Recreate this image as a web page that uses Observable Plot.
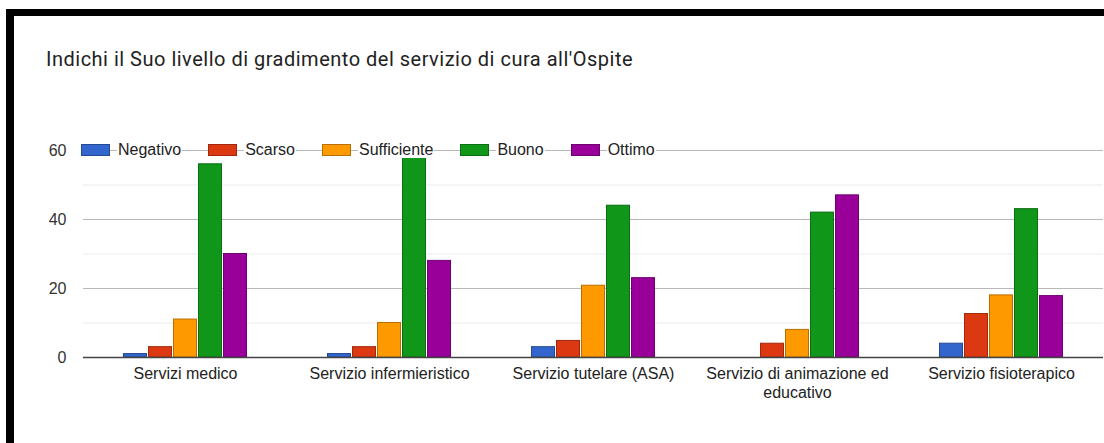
<!DOCTYPE html>
<html>
<head>
<meta charset="utf-8">
<script src="https://cdn.jsdelivr.net/npm/d3@7"></script>
<script src="https://cdn.jsdelivr.net/npm/@observablehq/plot@0.6"></script>
<style>
  html, body { margin: 0; padding: 0; background: #fff; }
  body { width: 1104px; height: 443px; overflow: hidden; position: relative; }
  #frame { position: absolute; left: 6px; top: 9px; width: 1200px; height: 600px;
           border-left: 8px solid #000; border-top: 7px solid #000; box-sizing: border-box; }
  #title { position: absolute; left: 46px; top: 47px; font-family: Roboto, sans-serif;
           font-size: 20px; letter-spacing: 0.5px; color: #222; white-space: nowrap; }
  #chart { position: absolute; left: 0; top: 0; }
  #legend { position: absolute; left: 81px; top: 142px; height: 16px; display: flex; align-items: center;
            font-family: "Liberation Sans", Arial, sans-serif; font-size: 16px; color: #222; }
  .sw { width: 29px; height: 12px; margin-right: 7px; box-sizing: border-box; border: 1px solid; }
  .lt { background: #fff; margin-right: 26px; padding: 0 1px; line-height: 16px; }
</style>
</head>
<body>
<div id="frame"></div>
<div id="chart"></div>
<div id="title">Indichi il Suo livello di gradimento del servizio di cura all'Ospite</div>
<div id="legend"></div>
<script>
const categories = ["Servizi medico", "Servizio infermieristico", "Servizio tutelare (ASA)", "Servizio di animazione ed educativo", "Servizio fisioterapico"];
const series = ["Negativo", "Scarso", "Sufficiente", "Buono", "Ottimo"];
const negativo    = [1, 1, 3, 0, 4];
const scarso      = [3, 3, 4.8, 4, 12.6];
const sufficiente = [11, 10, 20.8, 8, 18];
const buono       = [56, 59, 44, 42, 43];
const ottimo      = [30, 28, 23, 47, 17.8];
const yTicks = [0, 20, 40, 60];
const yMinor = [10, 30, 50];
const colors = ["#3366cc", "#dc3912", "#ff9900", "#109618", "#990099"];

const valuesBySeries = [negativo, scarso, sufficiente, buono, ottimo];
const data = [];
categories.forEach((c, i) => series.forEach((s, j) => data.push({cat: c, series: s, value: valuesBySeries[j][i]})));
const fillOf = s => colors[series.indexOf(s)];
const strokeOf = s => d3.color(fillOf(s)).darker(0.9).formatHex();

const chart = Plot.plot({
  width: 1104,
  height: 443,
  marginLeft: 81,
  marginRight: 0,
  marginTop: 150,
  marginBottom: 86,
  style: {fontFamily: "'Liberation Sans', Arial, sans-serif", fontSize: "16px", color: "#222", background: "transparent"},
  fx: {domain: categories, padding: 0, label: null},
  x: {domain: series, paddingInner: 0.04, paddingOuter: 1.53, axis: null},
  y: {domain: [0, 60], label: null},
  color: {type: "identity"},
  marks: [
    Plot.ruleY(yMinor, {stroke: "#ebebeb", strokeWidth: 1}),
    Plot.ruleY(yTicks, {stroke: "#b8b8b8", strokeWidth: 1}),
    Plot.barY(data, {fx: "cat", x: "series", y: "value", fill: d => fillOf(d.series), stroke: d => strokeOf(d.series), strokeWidth: 1, insetLeft: 0.5, insetRight: 0.5}),
    Plot.ruleY([0], {stroke: "#444", strokeWidth: 1.5}),
    Plot.axisY({ticks: yTicks, tickSize: 0, tickPadding: 17, label: null, fontSize: 16, fill: "#333"}),
    Plot.axisFx({anchor: "bottom", tickSize: 0, tickPadding: 8, label: null, lineWidth: 13.5, lineHeight: 1.2, fontSize: 16, fill: "#222"})
  ]
});
document.getElementById("chart").appendChild(chart);

const legend = document.getElementById("legend");
series.forEach(s => {
  const sw = document.createElement("div");
  sw.className = "sw";
  sw.style.background = fillOf(s);
  sw.style.borderColor = strokeOf(s);
  const t = document.createElement("span");
  t.className = "lt";
  t.textContent = s;
  legend.appendChild(sw);
  legend.appendChild(t);
});
</script>
</body>
</html>
